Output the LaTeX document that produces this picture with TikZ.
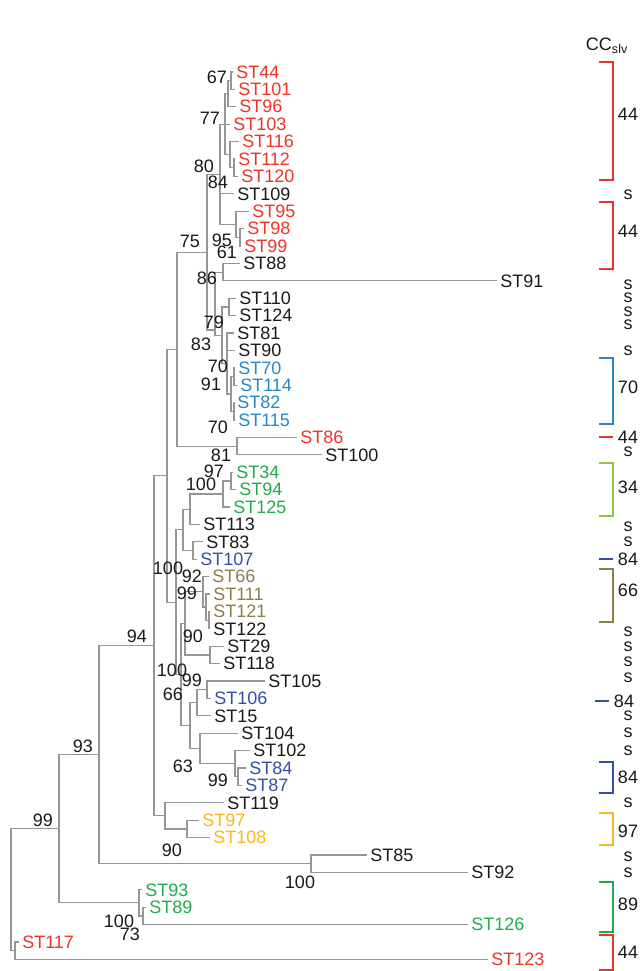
\documentclass[tikz,border=0pt]{standalone}
\usepackage{fontspec}
\setmainfont{Liberation Sans}
\definecolor{cred}{RGB}{236,52,38}
\definecolor{cteal}{RGB}{38,136,194}
\definecolor{cgreen}{RGB}{34,170,78}
\definecolor{clgreen}{RGB}{141,198,63}
\definecolor{cdblue}{RGB}{52,78,166}
\definecolor{colive}{RGB}{140,126,76}
\definecolor{cyellow}{RGB}{252,182,30}
\definecolor{ctxt}{RGB}{25,25,25}
\definecolor{ctree}{RGB}{150,150,150}
\newcommand\tbr[2]{\draw[br] (#1) |- (#2);}
\newcommand\tlf[2]{\draw[br] (#1) |- ([xshift=-2.5pt]#2.west);}
\begin{document}
\begin{tikzpicture}[x=0.75pt,y=-0.75pt,
  every node/.style={font=\fontsize{13.5}{15}\selectfont, text=ctxt, inner sep=0pt},
  leaf/.style={anchor=west},
  bootlab/.style={},
  br/.style={draw=ctree, line width=0.9pt},
  brk/.style={line width=1.3pt}]
\useasboundingbox (0,0) rectangle (642,971);
% leaves
\node[leaf,text=cred] (L44) at (236,72.0) {ST44};
\node[leaf,text=cred] (L101) at (238,89.4) {ST101};
\node[leaf,text=cred] (L96) at (239,106.8) {ST96};
\node[leaf,text=cred] (L103) at (233,124.2) {ST103};
\node[leaf,text=cred] (L116) at (242,141.6) {ST116};
\node[leaf,text=cred] (L112) at (238,159.0) {ST112};
\node[leaf,text=cred] (L120) at (241,176.4) {ST120};
\node[leaf] (L109) at (237,193.8) {ST109};
\node[leaf,text=cred] (L95) at (252,211.2) {ST95};
\node[leaf,text=cred] (L98) at (247,228.6) {ST98};
\node[leaf,text=cred] (L99) at (244,246.0) {ST99};
\node[leaf] (L88) at (243,263.4) {ST88};
\node[leaf] (L91) at (500,280.8) {ST91};
\node[leaf] (L110) at (239,298.2) {ST110};
\node[leaf] (L124) at (239,315.6) {ST124};
\node[leaf] (L81) at (237,333.0) {ST81};
\node[leaf] (L90) at (238,350.4) {ST90};
\node[leaf,text=cteal] (L70) at (238,367.8) {ST70};
\node[leaf,text=cteal] (L114) at (240,385.2) {ST114};
\node[leaf,text=cteal] (L82) at (237,402.6) {ST82};
\node[leaf,text=cteal] (L115) at (238,420.0) {ST115};
\node[leaf,text=cred] (L86) at (300,437.4) {ST86};
\node[leaf] (L100) at (325,454.8) {ST100};
\node[leaf,text=cgreen] (L34) at (236,472.2) {ST34};
\node[leaf,text=cgreen] (L94) at (239,489.6) {ST94};
\node[leaf,text=cgreen] (L125) at (233,507.0) {ST125};
\node[leaf] (L113) at (203,524.4) {ST113};
\node[leaf] (L83) at (206,541.8) {ST83};
\node[leaf,text=cdblue] (L107) at (200,559.2) {ST107};
\node[leaf,text=colive] (L66) at (212,576.6) {ST66};
\node[leaf,text=colive] (L111) at (213,594.0) {ST111};
\node[leaf,text=colive] (L121) at (213,611.4) {ST121};
\node[leaf] (L122) at (213,628.8) {ST122};
\node[leaf] (L29) at (227,646.2) {ST29};
\node[leaf] (L118) at (223,663.6) {ST118};
\node[leaf] (L105) at (268,681.0) {ST105};
\node[leaf,text=cdblue] (L106) at (214,698.4) {ST106};
\node[leaf] (L15) at (214,715.8) {ST15};
\node[leaf] (L104) at (241,733.2) {ST104};
\node[leaf] (L102) at (253,750.6) {ST102};
\node[leaf,text=cdblue] (L84) at (249,768.0) {ST84};
\node[leaf,text=cdblue] (L87) at (245,785.4) {ST87};
\node[leaf] (L119) at (227,802.8) {ST119};
\node[leaf,text=cyellow] (L97) at (202,820.2) {ST97};
\node[leaf,text=cyellow] (L108) at (213,837.6) {ST108};
\node[leaf] (L85) at (370,855.0) {ST85};
\node[leaf] (L92) at (471,872.4) {ST92};
\node[leaf,text=cgreen] (L93) at (145,889.8) {ST93};
\node[leaf,text=cgreen] (L89) at (149,907.2) {ST89};
\node[leaf,text=cgreen] (L126) at (471,924.6) {ST126};
\node[leaf,text=cred] (L117) at (22,942.0) {ST117};
\node[leaf,text=cred] (L123) at (491,959.4) {ST123};
% internal nodes
\coordinate (n67) at (231,80.7);
\coordinate (na) at (228,93.75);
\coordinate (nc) at (234,167.7);
\coordinate (nb) at (230,154.65);
\coordinate (n77) at (225,124.2);
\coordinate (nd) at (240,237.3);
\coordinate (n95) at (236,224.25);
\coordinate (n80) at (220,174.2);
\coordinate (n61) at (223,272.1);
\coordinate (ne) at (229,306.9);
\coordinate (n70a) at (234,376.5);
\coordinate (n70b) at (234,411.3);
\coordinate (n91) at (231,393.9);
\coordinate (nf) at (227,363.45);
\coordinate (n83) at (222,335.2);
\coordinate (n86) at (215,330);
\coordinate (ntop) at (207,252.1);
\coordinate (n81) at (237,446.1);
\coordinate (n75) at (177,349.1);
\coordinate (n97) at (231,480.9);
\coordinate (n100c) at (223,493.95);
\coordinate (n113) at (190,509.2);
\coordinate (n107) at (193,550.5);
\coordinate (nx) at (183,529.85);
\coordinate (nh) at (209,620.1);
\coordinate (ng) at (206,607.05);
\coordinate (n92) at (203,591.8);
\coordinate (n29) at (210,654.9);
\coordinate (n90) at (185,623.35);
\coordinate (n105) at (207,689.7);
\coordinate (n15) at (197,702.75);
\coordinate (n99b) at (238,776.7);
\coordinate (n102) at (235,763.65);
\coordinate (n63) at (200,748.4);
\coordinate (n66) at (190,725.6);
\coordinate (n100b) at (181,674.5);
\coordinate (n100a) at (176,602.2);
\coordinate (nA) at (167,475.65);
\coordinate (nC) at (187,828.9);
\coordinate (nB) at (165,815.85);
\coordinate (n94) at (154,645.75);
\coordinate (n85) at (311,863.7);
\coordinate (n93) at (99,754.7);
\coordinate (n73) at (143,915.9);
\coordinate (n89) at (139,902.85);
\coordinate (n99) at (59,828.8);
\coordinate (n117) at (15,950.7);
\coordinate (root) at (11,889.75);
% branches
\tlf{n67}{L44}\tlf{n67}{L101}
\tbr{na}{n67}\tlf{na}{L96}
\tlf{nc}{L112}\tlf{nc}{L120}
\tlf{nb}{L116}\tbr{nb}{nc}
\tbr{n77}{na}\tlf{n77}{L103}\tbr{n77}{nb}
\tlf{nd}{L98}\tlf{nd}{L99}
\tlf{n95}{L95}\tbr{n95}{nd}
\tbr{n80}{n77}\tlf{n80}{L109}\tbr{n80}{n95}
\tlf{n61}{L88}\tlf{n61}{L91}
\tlf{ne}{L110}\tlf{ne}{L124}
\tlf{n70a}{L70}\tlf{n70a}{L114}
\tlf{n70b}{L82}\tlf{n70b}{L115}
\tbr{n91}{n70a}\tbr{n91}{n70b}
\tlf{nf}{L81}\tlf{nf}{L90}\tbr{nf}{n91}
\tbr{n83}{ne}\tbr{n83}{nf}
\tbr{n86}{n61}\tbr{n86}{n83}
\tbr{ntop}{n80}\tbr{ntop}{n86}
\tlf{n81}{L86}\tlf{n81}{L100}
\tbr{n75}{ntop}\tbr{n75}{n81}
\tlf{n97}{L34}\tlf{n97}{L94}
\tbr{n100c}{n97}\tlf{n100c}{L125}
\tbr{n113}{n100c}\tlf{n113}{L113}
\tlf{n107}{L83}\tlf{n107}{L107}
\tbr{nx}{n113}\tbr{nx}{n107}
\tlf{nh}{L121}\tlf{nh}{L122}
\tlf{ng}{L111}\tbr{ng}{nh}
\tlf{n92}{L66}\tbr{n92}{ng}
\tlf{n29}{L29}\tlf{n29}{L118}
\tbr{n90}{n92}\tbr{n90}{n29}
\tlf{n105}{L105}\tlf{n105}{L106}
\tbr{n15}{n105}\tlf{n15}{L15}
\tlf{n99b}{L84}\tlf{n99b}{L87}
\tlf{n102}{L102}\tbr{n102}{n99b}
\tlf{n63}{L104}\tbr{n63}{n102}
\tbr{n66}{n15}\tbr{n66}{n63}
\tbr{n100b}{n90}\tbr{n100b}{n66}
\tbr{n100a}{nx}\tbr{n100a}{n100b}
\tbr{nA}{n75}\tbr{nA}{n100a}
\tlf{nC}{L97}\tlf{nC}{L108}
\tlf{nB}{L119}\tbr{nB}{nC}
\tbr{n94}{nA}\tbr{n94}{nB}
\tlf{n85}{L85}\tlf{n85}{L92}
\tbr{n93}{n94}\tbr{n93}{n85}
\tlf{n73}{L89}\tlf{n73}{L126}
\tlf{n89}{L93}\tbr{n89}{n73}
\tbr{n99}{n93}\tbr{n99}{n89}
\tlf{n117}{L117}\tlf{n117}{L123}
\tbr{root}{n99}\tbr{root}{n117}
% support values
\node[bootlab] (b1) at (217,77) {67};
\node[bootlab] (b2) at (210,118) {77};
\node[bootlab] (b3) at (204,166) {80};
\node[bootlab] (b4) at (218,182) {84};
\node[bootlab] (b5) at (190,241) {75};
\node[bootlab] (b6) at (222,240) {95};
\node[bootlab] (b7) at (227,252) {61};
\node[bootlab] (b8) at (207,278) {86};
\node[bootlab] (b9) at (214,322) {79};
\node[bootlab] (b10) at (201,344) {83};
\node[bootlab] (b11) at (218,366) {70};
\node[bootlab] (b12) at (211,384) {91};
\node[bootlab] (b13) at (218,427) {70};
\node[bootlab] (b14) at (221,455) {81};
\node[bootlab] (b15) at (214,471) {97};
\node[bootlab] (b16) at (201,484) {100};
\node[bootlab] (b17) at (168,568) {100};
\node[bootlab] (b18) at (192,576) {92};
\node[bootlab] (b19) at (187,593) {99};
\node[bootlab] (b20) at (193,636) {90};
\node[bootlab] (b21) at (172,670) {100};
\node[bootlab] (b22) at (192,680) {99};
\node[bootlab] (b23) at (173,694) {66};
\node[bootlab] (b24) at (183,766) {63};
\node[bootlab] (b25) at (218,780) {99};
\node[bootlab] (b26) at (172,850) {90};
\node[bootlab] (b27) at (137,636) {94};
\node[bootlab] (b28) at (83,746) {93};
\node[bootlab] (b29) at (43,820) {99};
\node[bootlab] (b30) at (300,882) {100};
\node[bootlab] (b31) at (119,921) {100};
\node[bootlab] (b32) at (130,934) {73};
% CC column
\node (hdr) at (607,46) {CC\textsubscript{slv}};
\draw[brk,draw=cred] (599,62) -| (613,180) -- (599,180);
\node (c1) at (628,114) {44};
\node (s1) at (628,195) {s};
\draw[brk,draw=cred] (599,202) -| (613,269) -- (599,269);
\node (c2) at (628,231) {44};
\node (s2) at (628,285) {s};
\node (s3) at (628,298) {s};
\node (s4) at (628,312) {s};
\node (s5) at (628,325) {s};
\node (s6) at (628,351) {s};
\draw[brk,draw=cteal] (599,358) -| (613,424) -- (599,424);
\node (c3) at (628,387) {70};
\draw[brk,draw=cred] (599,437) -- (613,437);
\node (c4) at (628,437) {44};
\node (s7) at (628,452) {s};
\draw[brk,draw=clgreen] (599,463) -| (613,516) -- (599,516);
\node (c5) at (628,487) {34};
\node (s8) at (628,527) {s};
\node (s9) at (628,542) {s};
\draw[brk,draw=cdblue] (599,559) -- (613,559);
\node (c6) at (628,559) {84};
\draw[brk,draw=colive] (599,569) -| (613,622) -- (599,622);
\node (c7) at (628,590) {66};
\node (s10) at (628,632) {s};
\node (s11) at (628,647) {s};
\node (s12) at (628,662) {s};
\node (s13) at (628,678) {s};
\draw[brk,draw=cdblue] (595,701) -- (609,701);
\node (c8) at (624,701) {84};
\node (s14) at (628,716) {s};
\node (s15) at (628,733) {s};
\node (s16) at (628,751) {s};
\draw[brk,draw=cdblue] (599,762) -| (613,793) -- (599,793);
\node (c9) at (628,777) {84};
\node (s17) at (628,803) {s};
\draw[brk,draw=cyellow] (599,813) -| (613,845) -- (599,845);
\node (c10) at (628,831) {97};
\node (s18) at (628,857) {s};
\node (s19) at (628,873) {s};
\draw[brk,draw=cgreen] (599,882) -| (613,932) -- (599,932);
\node (c11) at (628,904) {89};
\draw[brk,draw=cred] (599,935) -| (613,970) -- (599,970);
\node (c12) at (628,952) {44};
\end{tikzpicture}
\end{document}
